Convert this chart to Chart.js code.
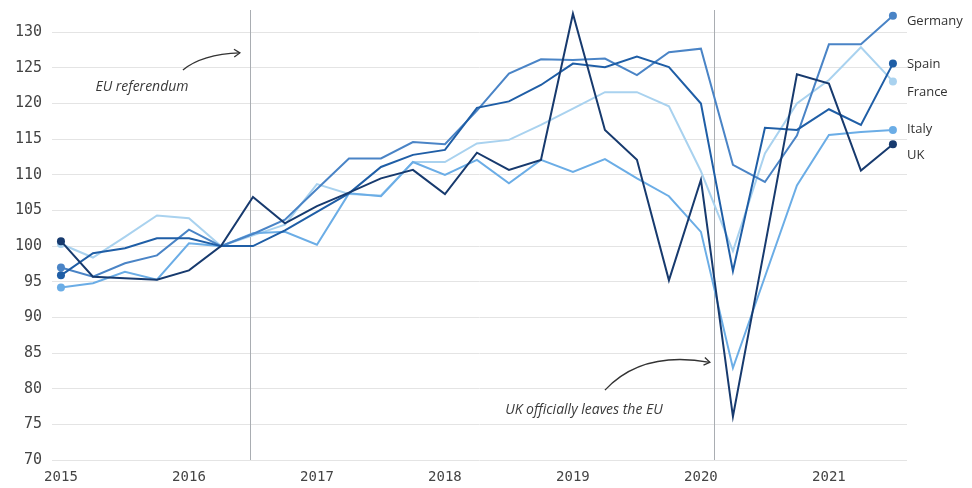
<!DOCTYPE html>
<html>
<head>
<meta charset="utf-8">
<script src="https://cdn.jsdelivr.net/npm/chart.js@4.4.0/dist/chart.umd.min.js"></script>
<style>
  html, body { margin: 0; background: #fff; }
  .chart-container { position: relative; width: 972px; height: 488px; }
</style>
</head>
<body>
<div class="chart-container"><canvas id="tradeChart"></canvas></div>
<script>
// quarterly index, 2016 Q2 = 100
const quarters = [2015, 2015.25, 2015.5, 2015.75, 2016, 2016.25, 2016.5, 2016.75,
    2017, 2017.25, 2017.5, 2017.75, 2018, 2018.25, 2018.5, 2018.75,
    2019, 2019.25, 2019.5, 2019.75, 2020, 2020.25, 2020.5, 2020.75,
    2021, 2021.25, 2021.5];

const uk      = [100.7, 95.7, 95.5, 95.3, 96.6, 100, 106.9, 103.2, 105.6, 107.5, 109.5, 110.7, 107.3, 113.1, 110.7, 112.1, 132.6, 116.3, 112.1, 95.2, 109.3, 76.1, 100.0, 124.1, 122.8, 110.6, 114.3];
const spain   = [95.9, 99.0, 99.7, 101.1, 101.1, 100, 100, 102.2, 104.8, 107.4, 111.1, 112.8, 113.5, 119.4, 120.3, 122.6, 125.6, 125.1, 126.6, 125.1, 120.0, 96.5, 116.6, 116.3, 119.2, 117.0, 125.6];
const germany = [97.0, 95.7, 97.6, 98.7, 102.3, 100, 101.7, 103.7, 108.0, 112.3, 112.3, 114.6, 114.3, 119.0, 124.2, 126.2, 126.1, 126.3, 124.0, 127.2, 127.7, 111.4, 109.0, 115.5, 128.3, 128.3, 132.3];
const italy   = [94.2, 94.8, 96.4, 95.3, 100.4, 100, 101.8, 102.0, 100.2, 107.4, 107.0, 111.8, 110.0, 112.1, 108.8, 112.1, 110.4, 112.2, 109.5, 107.0, 102.0, 82.9, 95.7, 108.5, 115.6, 116.0, 116.3];
const france  = [100.3, 98.4, 101.3, 104.3, 103.9, 100, 101.5, 103.0, 108.7, 107.3, 107.1, 111.8, 111.8, 114.4, 114.9, 117.0, 119.3, 121.6, 121.6, 119.6, 110.5, 99.3, 113.0, 120.0, 123.3, 127.9, 123.1];

const countries = ['UK', 'Spain', 'Germany', 'Italy', 'France'];
const seriesValues = [uk, spain, germany, italy, france];
const seriesColors = ['#173a6e', '#1f5ea6', '#4a84c6', '#6badE6', '#a9d2ef'];
// small vertical nudges so the end labels don't collide
const labelNudge = [11, 1, 5, -1, 11];

const yearTicks = [2015, 2016, 2017, 2018, 2019, 2020, 2021];
const valueTicks = [70, 75, 80, 85, 90, 95, 100, 105, 110, 115, 120, 125, 130];

const events = [
    { label: 'EU referendum', date: 2016.48,
      text: [2015.633, 122.3], arrow: [[2015.953, 124.7], [2016.10, 126.9], [2016.398, 127.1]] },
    { label: 'UK officially leaves the EU', date: 2020.1,
      text: [2019.086, 77.0], arrow: [[2019.25, 79.8], [2019.539, 85.4], [2020.07, 83.7]] }
];

const lastIndex = quarters.length - 1;

function drawArrow(ctx, p0, c, p1) {
    ctx.beginPath();
    ctx.moveTo(p0[0], p0[1]);
    ctx.quadraticCurveTo(c[0], c[1], p1[0], p1[1]);
    ctx.stroke();
    const angle = Math.atan2(p1[1] - c[1], p1[0] - c[0]);
    const len = 7;
    ctx.beginPath();
    ctx.moveTo(p1[0] - len * Math.cos(angle - 0.6), p1[1] - len * Math.sin(angle - 0.6));
    ctx.lineTo(p1[0], p1[1]);
    ctx.lineTo(p1[0] - len * Math.cos(angle + 0.6), p1[1] - len * Math.sin(angle + 0.6));
    ctx.stroke();
}

const eventLines = {
    id: 'eventLines',
    beforeDatasetsDraw(chart) {
        const { ctx, chartArea, scales: { x } } = chart;
        ctx.save();
        ctx.strokeStyle = '#a9adb2';
        ctx.lineWidth = 1;
        events.forEach(ev => {
            const px = Math.round(x.getPixelForValue(ev.date)) + 0.5;
            ctx.beginPath();
            ctx.moveTo(px, chartArea.top + 2);
            ctx.lineTo(px, chartArea.bottom);
            ctx.stroke();
        });
        ctx.restore();
    },
    afterDraw(chart) {
        const { ctx, scales: { x, y } } = chart;
        const pt = v => [x.getPixelForValue(v[0]), y.getPixelForValue(v[1])];
        ctx.save();
        ctx.font = 'italic 14px "Open Sans"';
        ctx.fillStyle = '#3a3a3a';
        ctx.textAlign = 'center';
        ctx.textBaseline = 'middle';
        ctx.strokeStyle = '#333';
        ctx.lineWidth = 1.3;
        events.forEach(ev => {
            const t = pt(ev.text);
            ctx.fillText(ev.label, t[0], t[1]);
            drawArrow(ctx, pt(ev.arrow[0]), pt(ev.arrow[1]), pt(ev.arrow[2]));
        });

        // country names next to the last point
        ctx.font = '13px "Open Sans"';
        ctx.fillStyle = '#333';
        ctx.textAlign = 'left';
        countries.forEach((name, i) => {
            const vals = seriesValues[i];
            const px = x.getPixelForValue(quarters[lastIndex]) + 14;
            const py = y.getPixelForValue(vals[lastIndex]) + labelNudge[i];
            ctx.fillText(name, px, py);
        });
        ctx.restore();
    }
};

const ctx = document.getElementById('tradeChart').getContext('2d');
new Chart(ctx, {
    type: 'line',
    data: {
        datasets: countries.map((name, i) => ({
            label: name,
            data: quarters.map((q, j) => ({ x: q, y: seriesValues[i][j] })),
            borderColor: seriesColors[i],
            backgroundColor: seriesColors[i],
            borderWidth: 2,
            tension: 0,
            pointRadius: c => (c.dataIndex === 0 || c.dataIndex === lastIndex) ? 4 : 0,
            pointHoverRadius: 0,
            pointBorderWidth: 0
        }))
    },
    options: {
        responsive: true,
        maintainAspectRatio: false,
        animation: false,
        layout: { padding: { top: 8, right: 65, left: 0, bottom: 0 } },
        plugins: {
            legend: { display: false },
            tooltip: { enabled: false }
        },
        scales: {
            x: {
                type: 'linear',
                min: 2014.93,
                max: 2021.61,
                afterBuildTicks: scale => { scale.ticks = yearTicks.map(v => ({ value: v })); },
                afterFit: scale => {
                    scale.height = 28;
                    scale.paddingLeft = 0;
                    scale.paddingRight = 0;
                },
                grid: { display: false, drawTicks: false },
                border: { display: false },
                ticks: {
                    padding: 9,
                    color: '#444',
                    font: { family: '"DejaVu Sans Mono"', size: 14 },
                    callback: v => String(v),
                    maxRotation: 0
                }
            },
            y: {
                min: 70,
                max: 133.4,
                afterBuildTicks: scale => { scale.ticks = valueTicks.map(v => ({ value: v })); },
                afterFit: scale => {
                    scale.width = 52;
                    scale.paddingTop = 0;
                    scale.paddingBottom = 0;
                },
                grid: { color: '#e4e4e4', drawTicks: false },
                border: { display: false },
                ticks: {
                    padding: 10,
                    color: '#444',
                    font: { family: '"DejaVu Sans Mono"', size: 15 }
                }
            }
        }
    },
    plugins: [eventLines]
});
</script>
</body>
</html>
